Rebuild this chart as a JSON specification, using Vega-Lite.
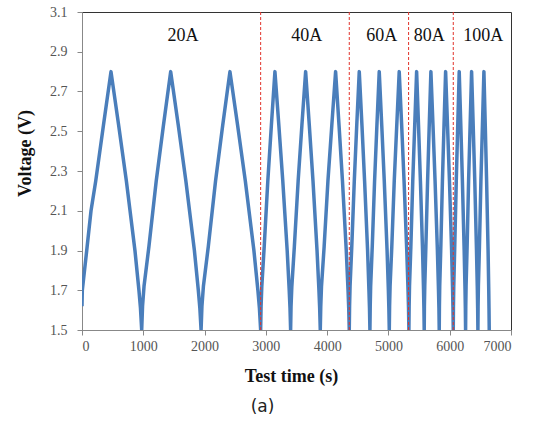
{
  "$schema": "https://vega.github.io/schema/vega-lite/v6.json",
  "width": 429,
  "height": 318,
  "autosize": {"type": "none"},
  "padding": {"left": 82, "top": 12, "right": 25, "bottom": 93},
  "background": "white",
  "title": {"text": "(a)", "orient": "bottom", "font": "DejaVu Sans", "fontSize": 17, "fontWeight": "normal", "color": "#222", "dx": -34, "offset": 14},
  "config": {
    "view": {"stroke": "#333", "strokeWidth": 1},
    "font": "Liberation Serif",
    "axis": {"grid": false, "labelFont": "Liberation Serif", "labelFontSize": 14, "labelColor": "#555", "labelOverlap": false, "titleFont": "Liberation Serif", "titleFontSize": 18, "titleFontWeight": "bold", "titleColor": "#111", "domainColor": "#888", "tickColor": "#888", "tickSize": 5}
  },
  "datasets": {
    "cv": [
      {"t":0,"v":1.62},{"t":5,"v":1.70},{"t":77,"v":1.9},{"t":147,"v":2.1},{"t":224,"v":2.25},{"t":350,"v":2.53},{"t":473,"v":2.8},
      {"t":598,"v":2.53},{"t":724,"v":2.25},{"t":864,"v":1.9},{"t":929,"v":1.7},{"t":954,"v":1.61},{"t":974,"v":1.5},
      {"t":988,"v":1.62},{"t":1012,"v":1.72},{"t":1092,"v":1.92},{"t":1211,"v":2.25},{"t":1329,"v":2.53},{"t":1447,"v":2.8},
      {"t":1571,"v":2.53},{"t":1695,"v":2.25},{"t":1834,"v":1.9},{"t":1898,"v":1.7},{"t":1923,"v":1.61},{"t":1943,"v":1.5},
      {"t":1957,"v":1.62},{"t":1981,"v":1.72},{"t":2061,"v":1.92},{"t":2179,"v":2.25},{"t":2296,"v":2.53},{"t":2414,"v":2.8},
      {"t":2539,"v":2.53},{"t":2665,"v":2.25},{"t":2805,"v":1.9},{"t":2870,"v":1.7},{"t":2895,"v":1.61},{"t":2915,"v":1.5},
      {"t":2922,"v":1.62},{"t":2934,"v":1.72},{"t":2973,"v":1.92},{"t":3032,"v":2.25},{"t":3090,"v":2.53},{"t":3148,"v":2.8},
      {"t":3212,"v":2.53},{"t":3276,"v":2.25},{"t":3348,"v":1.9},{"t":3381,"v":1.7},{"t":3394,"v":1.61},{"t":3404,"v":1.5},
      {"t":3411,"v":1.62},{"t":3424,"v":1.72},{"t":3465,"v":1.92},{"t":3527,"v":2.25},{"t":3588,"v":2.53},{"t":3649,"v":2.8},
      {"t":3709,"v":2.53},{"t":3769,"v":2.25},{"t":3835,"v":1.9},{"t":3866,"v":1.7},{"t":3878,"v":1.61},{"t":3888,"v":1.5},
      {"t":3896,"v":1.62},{"t":3908,"v":1.72},{"t":3951,"v":1.92},{"t":4013,"v":2.25},{"t":4076,"v":2.53},{"t":4138,"v":2.8},
      {"t":4194,"v":2.53},{"t":4250,"v":2.25},{"t":4312,"v":1.9},{"t":4341,"v":1.7},{"t":4352,"v":1.61},{"t":4361,"v":1.5},
      {"t":4366,"v":1.62},{"t":4374,"v":1.72},{"t":4402,"v":1.92},{"t":4443,"v":2.25},{"t":4483,"v":2.53},{"t":4524,"v":2.8},
      {"t":4568,"v":2.53},{"t":4611,"v":2.25},{"t":4660,"v":1.9},{"t":4682,"v":1.7},{"t":4691,"v":1.61},{"t":4698,"v":1.5},
      {"t":4703,"v":1.62},{"t":4710,"v":1.72},{"t":4736,"v":1.92},{"t":4774,"v":2.25},{"t":4812,"v":2.53},{"t":4850,"v":2.8},
      {"t":4891,"v":2.53},{"t":4932,"v":2.25},{"t":4978,"v":1.9},{"t":4999,"v":1.7},{"t":5007,"v":1.61},{"t":5014,"v":1.5},
      {"t":5019,"v":1.62},{"t":5027,"v":1.72},{"t":5055,"v":1.92},{"t":5095,"v":2.25},{"t":5136,"v":2.53},{"t":5176,"v":2.8},
      {"t":5216,"v":2.53},{"t":5255,"v":2.25},{"t":5299,"v":1.9},{"t":5320,"v":1.7},{"t":5328,"v":1.61},{"t":5334,"v":1.5},
      {"t":5338,"v":1.62},{"t":5344,"v":1.72},{"t":5366,"v":1.92},{"t":5397,"v":2.25},{"t":5429,"v":2.53},{"t":5460,"v":2.8},
      {"t":5491,"v":2.53},{"t":5522,"v":2.25},{"t":5557,"v":1.9},{"t":5573,"v":1.7},{"t":5579,"v":1.61},{"t":5584,"v":1.5},
      {"t":5587,"v":1.62},{"t":5593,"v":1.72},{"t":5611,"v":1.92},{"t":5639,"v":2.25},{"t":5666,"v":2.53},{"t":5693,"v":2.8},
      {"t":5727,"v":2.53},{"t":5761,"v":2.25},{"t":5799,"v":1.9},{"t":5817,"v":1.7},{"t":5824,"v":1.61},{"t":5829,"v":1.5},
      {"t":5832,"v":1.62},{"t":5837,"v":1.72},{"t":5855,"v":1.92},{"t":5881,"v":2.25},{"t":5907,"v":2.53},{"t":5933,"v":2.8},
      {"t":5964,"v":2.53},{"t":5996,"v":2.25},{"t":6031,"v":1.9},{"t":6047,"v":1.7},{"t":6053,"v":1.61},{"t":6058,"v":1.5},
      {"t":6061,"v":1.62},{"t":6066,"v":1.72},{"t":6082,"v":1.92},{"t":6107,"v":2.25},{"t":6131,"v":2.53},{"t":6155,"v":2.8},
      {"t":6181,"v":2.53},{"t":6207,"v":2.25},{"t":6236,"v":1.9},{"t":6250,"v":1.7},{"t":6255,"v":1.61},{"t":6259,"v":1.5},
      {"t":6262,"v":1.62},{"t":6267,"v":1.72},{"t":6284,"v":1.92},{"t":6308,"v":2.25},{"t":6333,"v":2.53},{"t":6357,"v":2.8},
      {"t":6383,"v":2.53},{"t":6409,"v":2.25},{"t":6437,"v":1.9},{"t":6451,"v":1.7},{"t":6456,"v":1.61},{"t":6460,"v":1.5},
      {"t":6463,"v":1.62},{"t":6468,"v":1.72},{"t":6485,"v":1.92},{"t":6509,"v":2.25},{"t":6534,"v":2.53},{"t":6558,"v":2.8},
      {"t":6580,"v":2.53},{"t":6602,"v":2.25},{"t":6626,"v":1.9},{"t":6637,"v":1.7},{"t":6641,"v":1.61},{"t":6645,"v":1.5}
    ],
    "bounds": [{"t":2915},{"t":4361},{"t":5329},{"t":6058}],
    "labels": [
      {"label":"20A","t":1648,"v":2.98},
      {"label":"40A","t":3666,"v":2.98},
      {"label":"60A","t":4890,"v":2.98},
      {"label":"80A","t":5666,"v":2.98},
      {"label":"100A","t":6548,"v":2.98}
    ]
  },
  "layer": [
    {
      "data": {"name": "cv"},
      "mark": {"type": "line", "color": "#4a7ebb", "strokeWidth": 3.5, "strokeJoin": "round", "clip": true},
      "encoding": {
        "x": {"field": "t", "type": "quantitative", "scale": {"domain": [0, 7000], "nice": false},
          "axis": {"values": [0,1000,2000,3000,4000,5000,6000,7000], "format": "d", "title": "Test time (s)", "labelPadding": 4, "labelOverlap": false, "titleY": 46, "titleBaseline": "middle", "titleX": 209}},
        "y": {"field": "v", "type": "quantitative", "scale": {"domain": [1.5, 3.1], "nice": false, "zero": false},
          "axis": {"values": [1.5,1.7,1.9,2.1,2.3,2.5,2.7,2.9,3.1], "format": ".1f", "title": "Voltage (V)", "labelPadding": 10, "labelOverlap": false, "titleX": -57, "titleY": 141, "titleBaseline": "middle", "titleAngle": -90}}
      }
    },
    {
      "data": {"name": "bounds"},
      "mark": {"type": "rule", "color": "#e2332b", "strokeWidth": 1, "strokeDash": [3, 2]},
      "encoding": {"x": {"field": "t", "type": "quantitative",
          "axis": {"values": [0,1000,2000,3000,4000,5000,6000,7000], "format": "d", "title": "Test time (s)", "labelPadding": 4, "labelOverlap": false, "titleY": 46, "titleBaseline": "middle", "titleX": 209}}}
    },
    {
      "data": {"name": "labels"},
      "mark": {"type": "text", "font": "Liberation Serif", "fontSize": 18, "color": "#111", "baseline": "middle", "align": "center"},
      "encoding": {
        "x": {"field": "t", "type": "quantitative",
          "axis": {"values": [0,1000,2000,3000,4000,5000,6000,7000], "format": "d", "title": "Test time (s)", "labelPadding": 4, "labelOverlap": false, "titleY": 46, "titleBaseline": "middle", "titleX": 209}},
        "y": {"field": "v", "type": "quantitative",
          "axis": {"values": [1.5,1.7,1.9,2.1,2.3,2.5,2.7,2.9,3.1], "format": ".1f", "title": "Voltage (V)", "labelPadding": 10, "labelOverlap": false, "titleX": -57, "titleY": 141, "titleBaseline": "middle", "titleAngle": -90}},
        "text": {"field": "label"}
      }
    }
  ]
}
